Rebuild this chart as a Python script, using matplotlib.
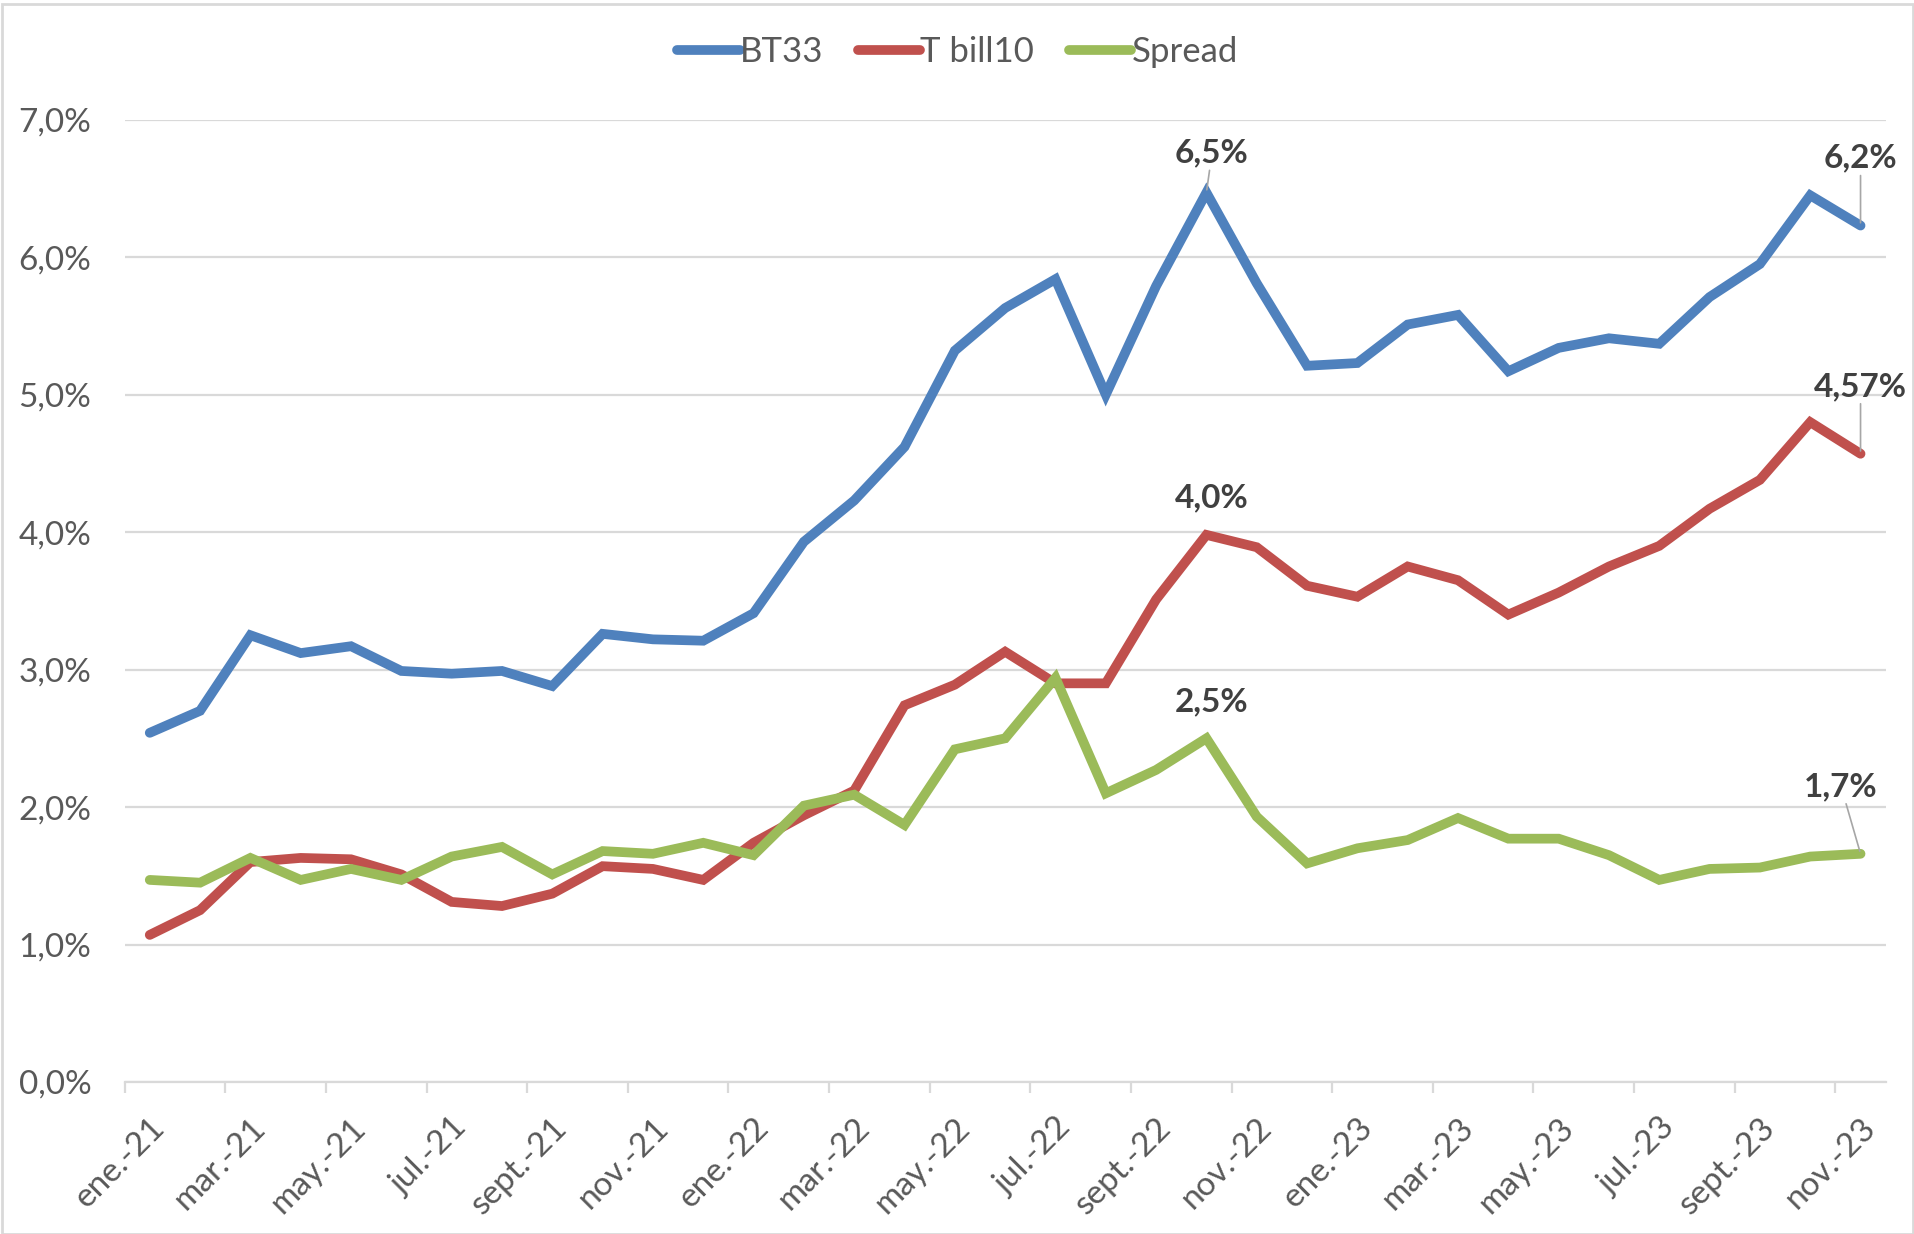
import matplotlib
matplotlib.use("Agg")
import matplotlib.pyplot as plt
from matplotlib.patches import Rectangle

plt.rcParams['font.family'] = ['Lato', 'DejaVu Sans']

months = ["ene.-21", "feb.-21", "mar.-21", "abr.-21", "may.-21", "jun.-21", "jul.-21", "ago.-21",
          "sept.-21", "oct.-21", "nov.-21", "dic.-21",
          "ene.-22", "feb.-22", "mar.-22", "abr.-22", "may.-22", "jun.-22", "jul.-22", "ago.-22",
          "sept.-22", "oct.-22", "nov.-22", "dic.-22",
          "ene.-23", "feb.-23", "mar.-23", "abr.-23", "may.-23", "jun.-23", "jul.-23", "ago.-23",
          "sept.-23", "oct.-23", "nov.-23"]

bt33 = [2.54, 2.70, 3.25, 3.12, 3.17, 2.99, 2.97, 2.99, 2.88, 3.26, 3.22, 3.21,
        3.41, 3.93, 4.23, 4.62, 5.32, 5.63, 5.84, 5.00, 5.79, 6.47, 5.81, 5.21,
        5.23, 5.51, 5.58, 5.17, 5.34, 5.41, 5.37, 5.71, 5.95, 6.45, 6.23]

tbill10 = [1.07, 1.25, 1.60, 1.63, 1.62, 1.51, 1.31, 1.28, 1.37, 1.57, 1.55, 1.47,
           1.74, 1.94, 2.12, 2.74, 2.89, 3.13, 2.90, 2.90, 3.51, 3.98, 3.89, 3.61,
           3.53, 3.75, 3.65, 3.40, 3.56, 3.75, 3.90, 4.17, 4.38, 4.80, 4.57]

spread = [1.47, 1.45, 1.63, 1.47, 1.55, 1.47, 1.64, 1.71, 1.51, 1.68, 1.66, 1.74,
          1.65, 2.01, 2.09, 1.87, 2.42, 2.50, 2.94, 2.10, 2.27, 2.50, 1.93, 1.59,
          1.70, 1.76, 1.92, 1.77, 1.77, 1.65, 1.47, 1.55, 1.56, 1.64, 1.66]

yticks = [0, 1, 2, 3, 4, 5, 6, 7]
ytick_labels = ["0,0%", "1,0%", "2,0%", "3,0%", "4,0%", "5,0%", "6,0%", "7,0%"]

BLUE = "#4F81BD"
RED = "#C0504D"
GREEN = "#9BBB59"
TXT = "#595959"
LBL = "#404040"

W, H = 1915, 1234
fig = plt.figure(figsize=(W / 100, H / 100), dpi=100)
ax = fig.add_axes([124.6 / W, 1 - 1082 / H, (1885.7 - 124.6) / W, (1082 - 119.7) / H])

x = list(range(len(months)))
lw = 7
for ser, c, name in [(bt33, BLUE, "BT33"), (tbill10, RED, "T bill10"), (spread, GREEN, "Spread")]:
    ax.plot(x, ser, color=c, lw=lw, solid_capstyle='round', solid_joinstyle='miter', label=name, zorder=3)

ax.set_xlim(-0.5, len(months) - 0.5)
ax.set_ylim(0, 7)
ax.set_yticks(yticks)
ax.set_yticklabels(ytick_labels)
ax.tick_params(axis='y', length=0, pad=24, labelsize=24, labelcolor=TXT)
ax.grid(axis='y', color="#D9D9D9", lw=1.6, zorder=0)
ax.set_axisbelow(True)

major = x[::2]
ax.set_xticks(major)
ax.set_xticklabels([months[i] for i in major], rotation=45, ha='right', rotation_mode='anchor')
ax.tick_params(axis='x', which='major', length=0, pad=22, labelsize=24, labelcolor=TXT)
ax.set_xticks([i - 0.5 for i in range(0, len(months), 2)], minor=True)
ax.tick_params(axis='x', which='minor', length=8, width=1.6, color="#D9D9D9")

for s in ['top', 'right', 'left']:
    ax.spines[s].set_visible(False)
ax.spines['bottom'].set_color("#D9D9D9")
ax.spines['bottom'].set_linewidth(1.6)

def lab(series, i, dx, dy, leader=False, dec=1):
    v = series[i]
    txt = ("%.*f" % (dec, v)).replace('.', ',') + "%"
    ap = dict(arrowstyle='-', color='#A6A6A6', lw=1.2, shrinkA=0, shrinkB=2) if leader else None
    ax.annotate(txt, xy=(i, v), xytext=(dx, dy), textcoords='offset points',
                ha='center', va='bottom', fontsize=24, fontweight='bold', color=LBL,
                arrowprops=ap, zorder=5)

lab(bt33, 21, 4, 18, leader=True)
lab(tbill10, 21, 4, 16)
lab(spread, 21, 4, 16)
lab(bt33, 34, 0, 38, leader=True)
lab(tbill10, 34, 0, 38, leader=True, dec=2)
lab(spread, 34, -14, 38, leader=True)

leg = fig.legend(loc='center', bbox_to_anchor=(0.5, 1 - 52 / H), ncol=3, frameon=False,
                 fontsize=25, handlelength=1.8, handletextpad=0.0, columnspacing=1.0,
                 labelcolor=TXT)
for l in leg.get_lines():
    l.set_linewidth(7)

fig.patches.append(Rectangle((2 / W, 0), 1 - 4 / W, 1 - 4 / H, transform=fig.transFigure,
                             fill=False, edgecolor="#D9D9D9", lw=2))

fig.savefig("out.png", dpi=100, facecolor='white')
